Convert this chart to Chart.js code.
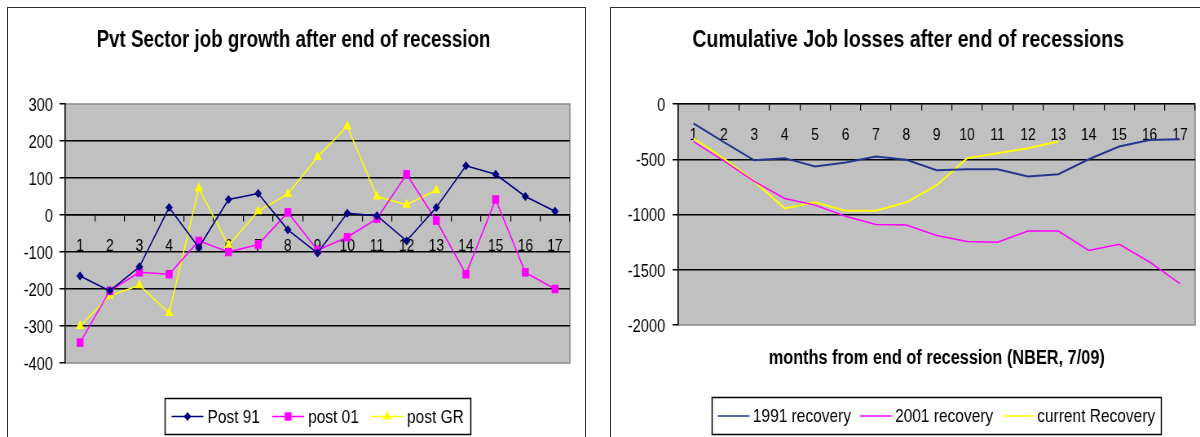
<!DOCTYPE html>
<html>
<head>
<meta charset="utf-8">
<title>Job growth after end of recession</title>
<script src="https://cdn.jsdelivr.net/npm/chart.js@4/dist/chart.umd.min.js"></script>
<style>
  html, body { margin: 0; padding: 0; background: #fff; width: 1200px; height: 437px; overflow: hidden; }
  .panel { position: absolute; box-sizing: border-box; border: 1.5px solid #2e2e2e; background: #fff; }
  #panelLeft { left: 7px; top: 7px; width: 579px; height: 470px; }
  #panelRight { left: 610px; top: 7px; width: 620px; height: 470px; }
  /* both charts are drawn on a wider canvas and condensed horizontally,
     which gives the narrow lettering of the original workbook charts */
  canvas { position: absolute; top: 0; transform-origin: 0 0; transform: scaleX(0.81522); }
  #growthChart { left: 0; }
  #lossChart { left: 600px; }
</style>
</head>
<body>
<div class="panel" id="panelLeft"></div>
<div class="panel" id="panelRight"></div>
<canvas id="growthChart" width="736" height="437" style="width:736px;height:437px"></canvas>
<canvas id="lossChart" width="736" height="437" style="width:736px;height:437px"></canvas>
<script>
// months after the end of each recession
const months = ['1','2','3','4','5','6','7','8','9','10','11','12','13','14','15','16','17'];

// monthly private-sector job change (thousands)
const post91 = [-165, -205, -140, 20, -88, 42, 58, -40, -103, 5, -2, -70, 20, 133, 110, 50, 10];
const post01 = [-345, -205, -155, -160, -70, -100, -80, 7, -95, -60, -10, 110, -15, -160, 42, -155, -200];
const postGR = [-300, -218, -190, -265, 72, -82, 10, 57, 157, 240, 50, 28, 67];

// cumulative job losses (thousands)
const recovery1991 = [-175, -345, -510, -490, -565, -530, -475, -505, -600, -590, -590, -655, -635, -500, -385, -325, -320];
const recovery2001 = [-340, -515, -700, -855, -915, -1015, -1090, -1095, -1190, -1245, -1250, -1150, -1150, -1325, -1270, -1430, -1625];
const recoveryCurrent = [-310, -495, -700, -945, -890, -965, -965, -890, -735, -490, -445, -400, -340];

// axis ranges and tick steps
const growthTicks = { min: -400, max: 300, step: 100 };
const lossTicks = { min: -2000, max: 0, step: 500 };

const FONT = "'Liberation Sans', Arial, sans-serif";
const NAVY = '#000080';
const NAVY_LINE = '#26358f';
const MAGENTA = '#ff00ff';
const YELLOW = '#ffff00';

function drawMarker(ctx, style, x, y, r, color) {
  ctx.save();
  ctx.fillStyle = color;
  ctx.beginPath();
  if (style === 'rectRot') {
    ctx.moveTo(x, y - r); ctx.lineTo(x + r, y); ctx.lineTo(x, y + r); ctx.lineTo(x - r, y);
  } else if (style === 'rect') {
    const s = Math.SQRT1_2 * r;
    ctx.rect(x - s, y - s, 2 * s, 2 * s);
  } else if (style === 'triangle') {
    for (let k = 0; k < 3; k++) {
      const a = k * 2 * Math.PI / 3;
      const px = x + Math.sin(a) * r, py = y - Math.cos(a) * r;
      if (k === 0) ctx.moveTo(px, py); else ctx.lineTo(px, py);
    }
  }
  ctx.closePath();
  ctx.fill();
  ctx.restore();
}

// grey plot background with a thin grey frame
const plotFrame = {
  id: 'plotFrame',
  beforeDraw(chart, args, o) {
    const { ctx, chartArea: a } = chart;
    ctx.save();
    ctx.fillStyle = o.fill;
    ctx.fillRect(a.left, a.top, a.right - a.left, a.bottom - a.top);
    ctx.strokeStyle = o.edge;
    ctx.lineWidth = 1.5;
    ctx.strokeRect(a.left, a.top, a.right - a.left, a.bottom - a.top);
    ctx.restore();
  }
};

// chart heading and optional axis caption
const headings = {
  id: 'headings',
  afterDraw(chart, args, o) {
    const { ctx, chartArea: a } = chart;
    ctx.save();
    ctx.fillStyle = '#000';
    ctx.textAlign = 'center';
    ctx.textBaseline = 'alphabetic';
    ctx.font = 'bold ' + o.titleSize + 'px ' + FONT;
    ctx.fillText(o.title, o.titleX, o.titleY);
    if (o.caption) {
      ctx.font = 'bold ' + o.captionSize + 'px ' + FONT;
      ctx.fillText(o.caption, (a.left + a.right) / 2, o.captionY);
    }
    ctx.restore();
  }
};

// framed legend row below the plot
const boxLegend = {
  id: 'boxLegend',
  afterDraw(chart, args, o) {
    const { ctx, chartArea: a } = chart;
    const sets = chart.data.datasets;
    ctx.save();
    ctx.font = o.size + 'px ' + FONT;
    const widths = sets.map(d => ctx.measureText(d.label).width);
    let total = o.pad * 2;
    sets.forEach((d, i) => { total += o.line + o.gap + widths[i]; });
    total += o.itemGap * (sets.length - 1);
    let x = Math.round((a.left + a.right) / 2 - total / 2);
    ctx.strokeStyle = '#000';
    ctx.lineWidth = 1.5;
    ctx.strokeRect(x + 0.5, o.top + 0.5, Math.round(total), o.height);
    const cy = o.top + o.height / 2 + 0.5;
    x += o.pad;
    sets.forEach((d, i) => {
      ctx.strokeStyle = d.borderColor;
      ctx.lineWidth = 1.5;
      ctx.beginPath();
      ctx.moveTo(x, cy);
      ctx.lineTo(x + o.line, cy);
      ctx.stroke();
      if (d.pointRadius) drawMarker(ctx, d.pointStyle, x + o.line / 2, cy, d.pointRadius, d.backgroundColor);
      x += o.line + o.gap;
      ctx.fillStyle = '#000';
      ctx.textAlign = 'left';
      ctx.textBaseline = 'middle';
      ctx.fillText(d.label, x, cy + 1);
      x += widths[i] + o.itemGap;
    });
    ctx.restore();
  }
};

function yGrid(range) {
  return {
    drawTicks: true,
    tickLength: 7,
    tickColor: '#000',
    lineWidth: 1.5,
    color: c => (c.tick && (c.tick.value === range.min || c.tick.value === range.max)) ? 'rgba(0,0,0,0)' : '#000'
  };
}

function xAxis(pad) {
  return {
    type: 'category',
    offset: true,
    position: { y: 0 },
    grid: { display: true, drawOnChartArea: false, offset: true, drawTicks: true, tickLength: 6, color: '#000', lineWidth: 1.2 },
    border: { display: true, color: '#000', width: 1.5 },
    ticks: { autoSkip: false, maxRotation: 0, padding: pad, color: '#000', font: { family: FONT, size: 17 } }
  };
}

function yAxis(range, width, pad, size) {
  return {
    min: range.min,
    max: range.max,
    grid: yGrid(range),
    border: { display: true, color: '#000', width: 1.5 },
    ticks: {
      stepSize: range.step, padding: pad, labelOffset: 2, color: '#000',
      font: { family: FONT, size: size },
      callback: v => String(v)
    },
    afterFit(scale) { scale.width = width; }
  };
}

function markerSeries(label, data, color, style, radius) {
  return {
    label, data,
    borderColor: color, backgroundColor: color,
    borderWidth: 1.5,
    pointStyle: style, pointRadius: radius, pointBorderWidth: 0,
    pointBackgroundColor: color, pointBorderColor: color,
    tension: 0, fill: false
  };
}

function plainSeries(label, data, color, width) {
  return {
    label, data,
    borderColor: color, backgroundColor: color,
    borderWidth: width, pointRadius: 0, tension: 0, fill: false
  };
}

new Chart(document.getElementById('growthChart'), {
  type: 'line',
  data: {
    labels: months,
    datasets: [
      markerSeries('Post 91', post91, NAVY, 'rectRot', 4.5),
      markerSeries('post 01', post01, MAGENTA, 'rect', 6),
      markerSeries('post GR', postGR, YELLOW, 'triangle', 6)
    ]
  },
  options: {
    responsive: false,
    animation: false,
    devicePixelRatio: 1,
    layout: { padding: { left: 0, top: 104, right: 37, bottom: 74 } },
    scales: {
      x: xAxis(15),
      y: yAxis(growthTicks, 80, 8, 18)
    },
    plugins: {
      legend: { display: false },
      tooltip: { enabled: false },
      plotFrame: { fill: '#c0c0c0', edge: '#8a8a8a' },
      headings: { title: 'Pvt Sector job growth after end of recession', titleSize: 23, titleX: 360, titleY: 47 },
      boxLegend: { size: 19, top: 398, height: 36, pad: 8.5, line: 39, gap: 5, itemGap: 15 }
    }
  },
  plugins: [plotFrame, headings, boxLegend]
});

new Chart(document.getElementById('lossChart'), {
  type: 'line',
  data: {
    labels: months,
    datasets: [
      plainSeries('1991 recovery', recovery1991, NAVY_LINE, 2),
      plainSeries('2001 recovery', recovery2001, MAGENTA, 1.5),
      plainSeries('current Recovery', recoveryCurrent, YELLOW, 2)
    ]
  },
  options: {
    responsive: false,
    animation: false,
    devicePixelRatio: 1,
    layout: { padding: { left: 0, top: 104, right: 5, bottom: 112 } },
    scales: {
      x: xAxis(15),
      y: yAxis(lossTicks, 96, 9, 18)
    },
    plugins: {
      legend: { display: false },
      tooltip: { enabled: false },
      plotFrame: { fill: '#c0c0c0', edge: '#8a8a8a' },
      headings: {
        title: 'Cumulative Job losses after end of recessions', titleSize: 24, titleX: 378, titleY: 47,
        caption: 'months from end of recession (NBER, 7/09)', captionSize: 20, captionY: 364
      },
      boxLegend: { size: 19, top: 397, height: 37, pad: 7.5, line: 39, gap: 4, itemGap: 11 }
    }
  },
  plugins: [plotFrame, headings, boxLegend]
});
</script>
</body>
</html>
